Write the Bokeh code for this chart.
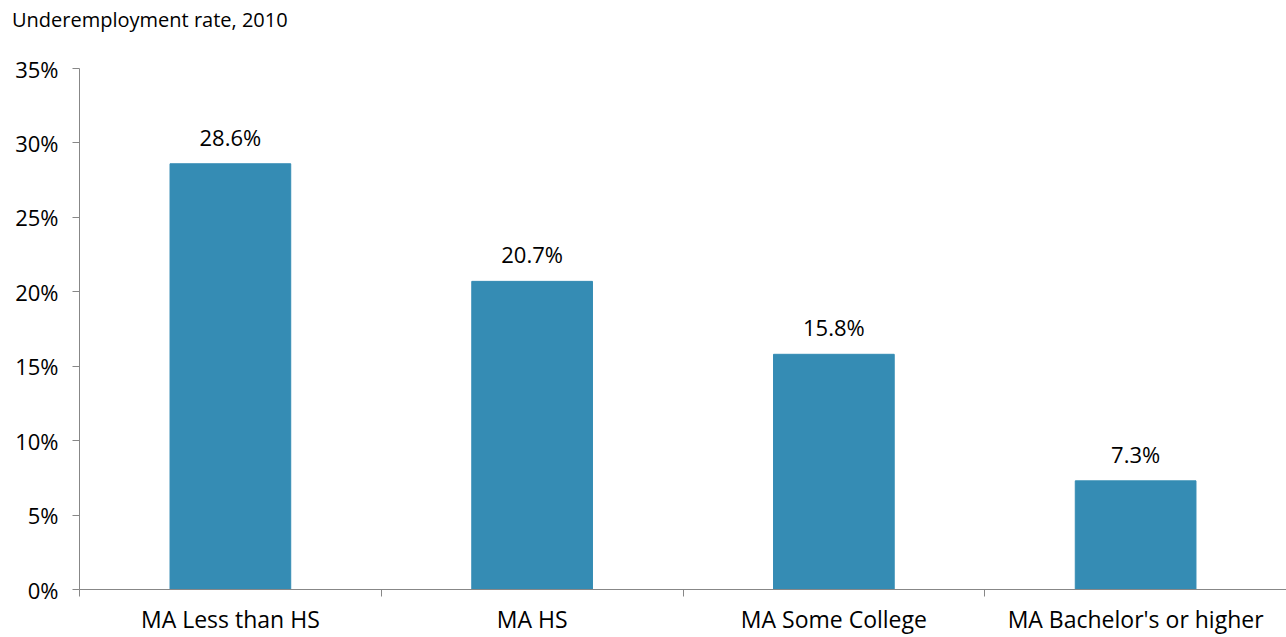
from bokeh.plotting import figure
from bokeh.models import Range1d, FixedTicker, ColumnDataSource, Div
from bokeh.layouts import column
from bokeh.core.properties import value
from bokeh.embed import file_html
from bokeh.resources import INLINE

title_text = "Underemployment rate, 2010"
categories = ["MA Less than HS", "MA HS", "MA Some College", "MA Bachelor's or higher"]
rates = [28.6, 20.7, 15.8, 7.3]
y_ticks = [0, 5, 10, 15, 20, 25, 30, 35]

FONT = "Open Sans"
AXIS_COL = "#878787"
BAR_COL = "#358cb4"

xs = [i + 0.5 for i in range(len(categories))]
src = ColumnDataSource(dict(x=xs, y=rates, lab=[f"{v:.1f}%" for v in rates]))

TITLE_H = 32
p = figure(width=1286, height=637 - TITLE_H, output_backend="svg", toolbar_location=None,
           x_range=Range1d(0, len(categories)), y_range=Range1d(0, 35),
           min_border_left=79, min_border_right=0, min_border_top=68 - TITLE_H,
           min_border_bottom=48)
p.outline_line_color = None
p.xgrid.visible = False
p.ygrid.visible = False

p.vbar(x="x", top="y", width=0.4, bottom=0, source=src, fill_color=BAR_COL, line_color=BAR_COL)
p.text(x="x", y="y", text="lab", source=src, text_align="center", text_baseline="bottom",
       y_offset=-12, text_font=value(FONT), text_font_size="22px", text_color="#000000")

# y axis
ya = p.yaxis[0]
ya.ticker = FixedTicker(ticks=y_ticks)
ya.major_label_overrides = {t: f"{t}%" for t in y_ticks}
ya.axis_line_color = AXIS_COL
ya.major_tick_line_color = AXIS_COL
ya.major_tick_out = 7
ya.major_tick_in = 0
ya.minor_tick_line_color = None
ya.major_label_standoff = 14
ya.major_label_text_font = FONT
ya.major_label_text_font_size = "22px"
ya.major_label_text_color = "#000000"

# x axis
xa = p.xaxis[0]
xa.ticker = FixedTicker(ticks=xs, minor_ticks=list(range(len(categories) + 1)))
xa.major_label_overrides = {x: c for x, c in zip(xs, categories)}
xa.axis_line_color = AXIS_COL
xa.major_tick_line_color = None
xa.major_tick_out = 0
xa.major_tick_in = 0
xa.minor_tick_line_color = AXIS_COL
xa.minor_tick_out = 7
xa.minor_tick_in = 0
xa.major_label_standoff = 6
xa.major_label_text_font = FONT
xa.major_label_text_font_size = "23px"
xa.major_label_text_color = "#000000"

title = Div(text=title_text, width=1286, height=TITLE_H, margin=(0, 0, 0, 0),
            styles={"font-family": FONT, "font-size": "20px", "color": "#000000",
                    "padding-left": "12px", "padding-top": "6px", "line-height": "28px"})

layout = column(title, p, spacing=0)
open("out.html", "w").write(file_html(layout, INLINE))
